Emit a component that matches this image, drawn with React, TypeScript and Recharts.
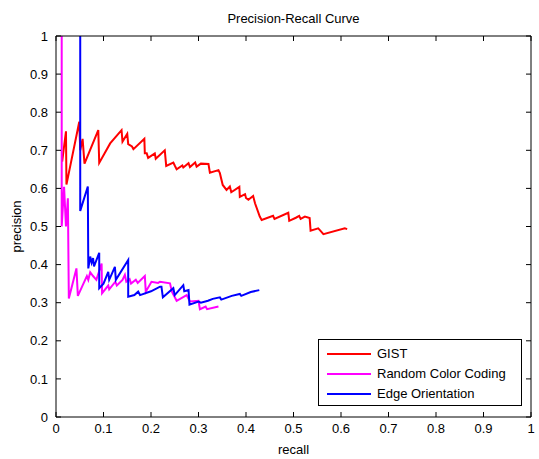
import React from 'react';
import { LineChart, Line, XAxis, YAxis, Legend } from 'recharts';

const gistRecall = [0.013, 0.021, 0.022, 0.049, 0.051, 0.056, 0.060, 0.089, 0.091, 0.114, 0.138, 0.140, 0.150, 0.152, 0.160, 0.163, 0.186, 0.187, 0.191, 0.194, 0.208, 0.210, 0.229, 0.232, 0.247, 0.250, 0.254, 0.266, 0.268, 0.279, 0.282, 0.293, 0.296, 0.305, 0.321, 0.324, 0.342, 0.345, 0.351, 0.359, 0.366, 0.369, 0.386, 0.387, 0.398, 0.400, 0.405, 0.415, 0.419, 0.429, 0.433, 0.457, 0.460, 0.489, 0.491, 0.505, 0.512, 0.515, 0.524, 0.534, 0.536, 0.552, 0.556, 0.563, 0.608, 0.613];
const gistPrecision = [0.67, 0.75, 0.61, 0.775, 0.70, 0.73, 0.665, 0.753, 0.667, 0.718, 0.753, 0.723, 0.743, 0.716, 0.710, 0.703, 0.73, 0.692, 0.692, 0.68, 0.692, 0.678, 0.70, 0.659, 0.668, 0.66, 0.650, 0.660, 0.655, 0.666, 0.656, 0.668, 0.657, 0.665, 0.664, 0.641, 0.648, 0.640, 0.609, 0.596, 0.605, 0.59, 0.604, 0.578, 0.585, 0.575, 0.57, 0.58, 0.561, 0.526, 0.517, 0.528, 0.52, 0.536, 0.515, 0.523, 0.528, 0.52, 0.526, 0.522, 0.489, 0.495, 0.49, 0.48, 0.495, 0.493];

const rccRecall = [0.012, 0.012, 0.017, 0.021, 0.025, 0.027, 0.043, 0.046, 0.065, 0.068, 0.072, 0.078, 0.085, 0.096, 0.097, 0.110, 0.112, 0.125, 0.128, 0.140, 0.145, 0.148, 0.155, 0.158, 0.168, 0.172, 0.187, 0.189, 0.201, 0.215, 0.219, 0.240, 0.244, 0.254, 0.275, 0.282, 0.300, 0.303, 0.315, 0.318, 0.342];
const rccPrecision = [1.0, 0.50, 0.604, 0.50, 0.574, 0.311, 0.39, 0.318, 0.37, 0.36, 0.38, 0.37, 0.36, 0.403, 0.325, 0.345, 0.335, 0.355, 0.345, 0.36, 0.373, 0.355, 0.362, 0.35, 0.36, 0.352, 0.37, 0.329, 0.355, 0.352, 0.355, 0.351, 0.329, 0.305, 0.32, 0.303, 0.305, 0.283, 0.29, 0.283, 0.29];

const edgeRecall = [0.051, 0.051, 0.067, 0.068, 0.072, 0.075, 0.078, 0.080, 0.091, 0.091, 0.100, 0.110, 0.112, 0.124, 0.126, 0.152, 0.152, 0.165, 0.173, 0.177, 0.200, 0.219, 0.222, 0.225, 0.247, 0.250, 0.268, 0.270, 0.279, 0.281, 0.300, 0.305, 0.320, 0.330, 0.345, 0.348, 0.370, 0.387, 0.390, 0.410, 0.428];
const edgePrecision = [1.0, 0.541, 0.605, 0.39, 0.421, 0.405, 0.417, 0.395, 0.431, 0.338, 0.35, 0.381, 0.36, 0.394, 0.36, 0.412, 0.316, 0.32, 0.329, 0.32, 0.33, 0.342, 0.342, 0.314, 0.338, 0.32, 0.346, 0.33, 0.333, 0.295, 0.303, 0.30, 0.305, 0.31, 0.314, 0.308, 0.318, 0.323, 0.318, 0.328, 0.333];

const seriesNames = ['GIST', 'Random Color Coding', 'Edge Orientation'];

const xTicks = [0, 0.1, 0.2, 0.3, 0.4, 0.5, 0.6, 0.7, 0.8, 0.9, 1];
const yTicks = [0, 0.1, 0.2, 0.3, 0.4, 0.5, 0.6, 0.7, 0.8, 0.9, 1];

const toPoints = (xs: number[], ys: number[]) => xs.map((x, i) => ({ recall: x, precision: ys[i] }));

const FONT = '"Liberation Sans", Arial, Helvetica, sans-serif';
const TICK_LEN = 5;
const GAP_X = 7; // label gap for bottom axis
const GAP_Y = 8; // label gap for left axis
const GAP_EDGE = 2; // for unlabeled top/right axes

const BottomTick = (p: any) => {
  const ay = p.y - GAP_X;
  return (
    <g>
      <line x1={p.x} x2={p.x} y1={ay} y2={ay - TICK_LEN} stroke="#000" strokeWidth={1} />
      <text x={p.x} y={p.y} dy="0.71em" textAnchor="middle" fill="#000" fontSize={13} fontFamily={FONT}>
        {String(p.payload.value)}
      </text>
    </g>
  );
};

const TopTick = (p: any) => {
  const ay = p.y + GAP_EDGE;
  return (
    <g>
      <line x1={p.x} x2={p.x} y1={ay} y2={ay + TICK_LEN} stroke="#000" strokeWidth={1} />
    </g>
  );
};

const LeftTick = (p: any) => {
  const ax = p.x + GAP_Y;
  return (
    <g>
      <line x1={ax} x2={ax + TICK_LEN} y1={p.y} y2={p.y} stroke="#000" strokeWidth={1} />
      <text x={p.x} y={p.y} dy="0.355em" textAnchor="end" fill="#000" fontSize={13} fontFamily={FONT}>
        {String(p.payload.value)}
      </text>
    </g>
  );
};

const RightTick = (p: any) => {
  const ax = p.x - GAP_EDGE;
  return (
    <g>
      <line x1={ax} x2={ax - TICK_LEN} y1={p.y} y2={p.y} stroke="#000" strokeWidth={1} />
    </g>
  );
};

const renderLegend = (props: any) => {
  const { payload } = props;
  const items = [...(payload || [])].sort(
    (a: any, b: any) => seriesNames.indexOf(a.value) - seriesNames.indexOf(b.value)
  );
  return (
    <div
      style={{
        border: '1px solid #000',
        background: '#fff',
        boxSizing: 'border-box',
        width: 204,
        height: 67,
        paddingTop: 4,
        fontFamily: FONT,
        fontSize: 13,
        color: '#000',
      }}
    >
      {items.map((entry: any) => (
        <div key={entry.value} style={{ display: 'flex', alignItems: 'center', height: 20 }}>
          <div style={{ marginLeft: 8, width: 44, height: 2, background: entry.color }} />
          <span style={{ marginLeft: 6, lineHeight: '20px' }}>{entry.value}</span>
        </div>
      ))}
    </div>
  );
};

export default function App() {
  return (
    <div style={{ position: 'absolute', left: 0, top: 0, width: 539, height: 459, background: '#fff' }}>
      <LineChart width={539} height={459} margin={{ top: 0, right: 0, bottom: 0, left: 0 }}>
        <XAxis
          type="number"
          dataKey="recall"
          domain={[0, 1]}
          ticks={xTicks}
          allowDataOverflow
          height={42}
          tickSize={0}
          tickMargin={GAP_X}
          tickLine={false}
          tick={<BottomTick />}
          stroke="#000"
          label={{ value: 'recall', position: 'insideBottom', offset: 5, style: { fill: '#000', fontSize: 13, fontFamily: FONT } }}
        />
        <XAxis
          xAxisId="top"
          orientation="top"
          type="number"
          dataKey="recall"
          domain={[0, 1]}
          ticks={xTicks}
          allowDataOverflow
          height={36}
          tickSize={0}
          tickMargin={GAP_EDGE}
          tickLine={false}
          tick={<TopTick />}
          stroke="#000"
          label={{ value: 'Precision-Recall Curve', position: 'insideTop', offset: 14, style: { fill: '#000', fontSize: 13, fontFamily: FONT } }}
        />
        <YAxis
          type="number"
          domain={[0, 1]}
          ticks={yTicks}
          allowDataOverflow
          width={56}
          tickSize={0}
          tickMargin={GAP_Y}
          tickLine={false}
          tick={<LeftTick />}
          stroke="#000"
          label={{ value: 'precision', angle: -90, position: 'insideLeft', offset: 16, style: { fill: '#000', fontSize: 13, fontFamily: FONT, textAnchor: 'middle' } }}
        />
        <YAxis
          yAxisId="right"
          orientation="right"
          type="number"
          domain={[0, 1]}
          ticks={yTicks}
          allowDataOverflow
          width={8}
          tickSize={0}
          tickMargin={GAP_EDGE}
          tickLine={false}
          tick={<RightTick />}
          stroke="#000"
        />
        <Line name="GIST" xAxisId="top" yAxisId="right" data={toPoints(gistRecall, gistPrecision)} dataKey="precision" stroke="#ff0000" strokeWidth={2} dot={false} isAnimationActive={false} type="linear" />
        <Line name="Random Color Coding" data={toPoints(rccRecall, rccPrecision)} dataKey="precision" stroke="#ff00ff" strokeWidth={2} dot={false} isAnimationActive={false} type="linear" />
        <Line name="Edge Orientation" data={toPoints(edgeRecall, edgePrecision)} dataKey="precision" stroke="#0000ff" strokeWidth={2} dot={false} isAnimationActive={false} type="linear" />
        <Legend
          layout="horizontal"
          verticalAlign="middle"
          align="center"
          content={renderLegend}
          wrapperStyle={{ position: 'absolute', left: 318, top: 339, width: 204, height: 67 }}
        />
      </LineChart>
    </div>
  );
}
